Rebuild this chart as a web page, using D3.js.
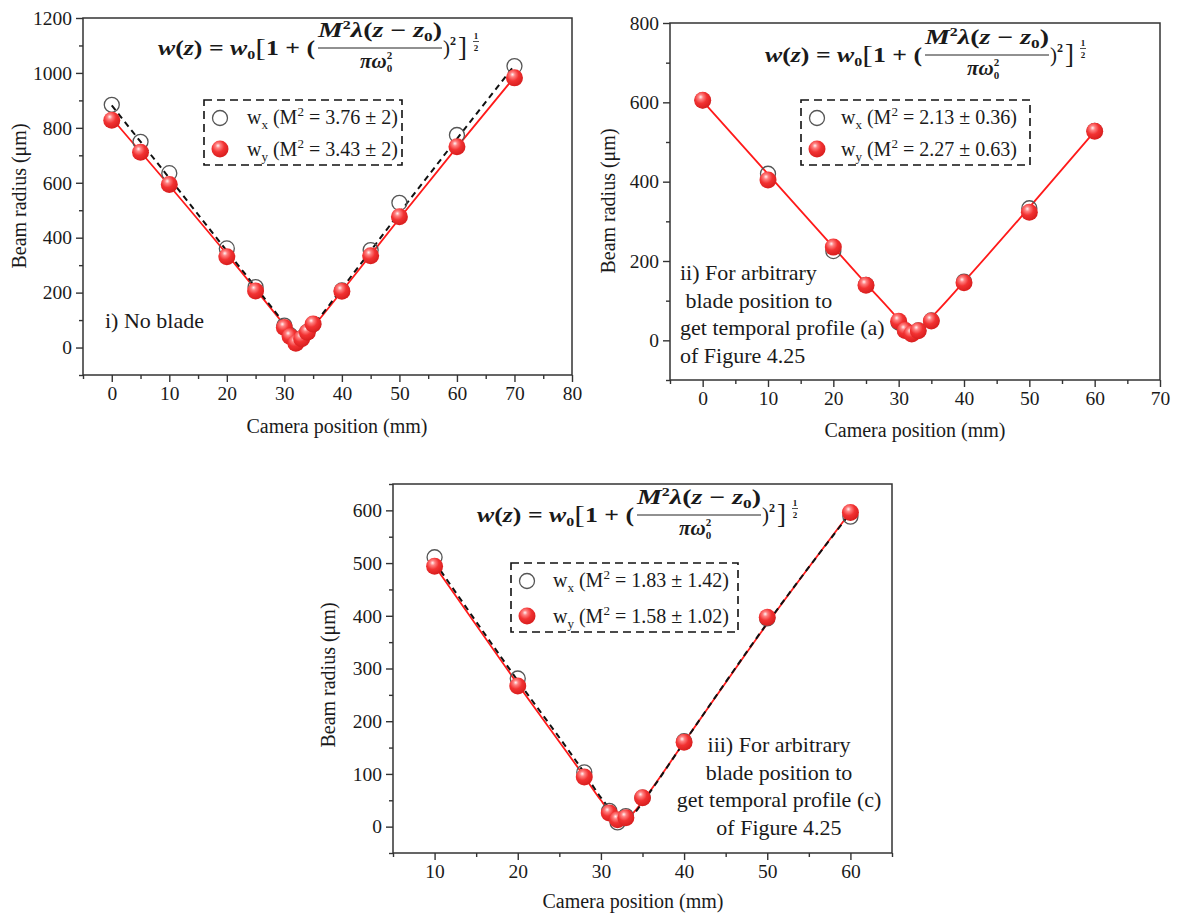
<!DOCTYPE html>
<html><head><meta charset="utf-8">
<script src="https://cdn.jsdelivr.net/npm/d3@7"></script>
<style>
body{margin:0;background:#fff;}
svg text{font-family:"Liberation Serif","Times New Roman",serif;fill:#1a1a1a;}
.math{font-family:"Liberation Serif",serif;font-weight:bold;}
</style></head><body>
<svg id="c" width="1179" height="916"></svg>
<script>
// ---------- DATA ----------
// Panel i) No blade
const p1Pos = [0,5,10,20,25,30,31,32,33,34,35,40,45,50,60,70];
const p1Wx  = [884,749,635,361,220,80,45,20,34,57,85,208,355,527,774,1025];
const p1Wy  = [828,711,594,331,206,73,40,16,32,56,86,205,334,476,731,982];
const p1FitPos = [0,10,20,25,30,31,32,32.5,33,34,35,40,50,60,70];
const p1FitWx  = [882,617,352,220,88,62,38,26,32,55,80,215,490,760,1028];
const p1FitWy  = [835,590,340,212,82,56,32,20,27,50,75,205,470,730,985];
const p1XTicks = [0,10,20,30,40,50,60,70,80];
const p1YTicks = [0,200,400,600,800,1000,1200];
const p1Leg = ["3.76 \u00b1 2","3.43 \u00b1 2"];
const p1Note = ["i) No blade"];

// Panel ii)
const p2Pos = [0,10,20,25,30,31,32,33,35,40,50,60];
const p2Wx  = [605,420,225,140,45,25,18,25,50,148,333,528];
const p2Wy  = [605,404,235,139,48,25,16,24,49,145,323,527];
const p2FitPos = [0,10,20,25,30,31,32,33,34,35,40,50,60];
const p2FitWy  = [603,419,235,143,52,32,17,28,42,58,148,335,527];
const p2XTicks = [0,10,20,30,40,50,60,70];
const p2YTicks = [0,200,400,600,800];
const p2Leg = ["2.13 \u00b1 0.36","2.27 \u00b1 0.63"];
const p2Note = ["ii) For arbitrary"," blade position to","get temporal profile (a)","of Figure 4.25"];

// Panel iii)
const p3Pos = [10,20,28,31,32,33,35,40,50,60];
const p3Wx  = [511,281,103,30,8,20,55,162,395,588];
const p3Wy  = [494,267,94,26,13,17,55,160,397,596];
const p3FitPos = [10,20,28,30,31,32,32.5,33,34,35,40,50,60];
const p3FitWx  = [502,277,102,55,35,20,14,14,25,46,160,386,595];
const p3FitWy  = [495,270,95,50,30,17,13,15,28,48,160,385,597];
const p3XTicks = [10,20,30,40,50,60];
const p3YTicks = [0,100,200,300,400,500,600];
const p3Leg = ["1.83 \u00b1 1.42","1.58 \u00b1 1.02"];
const p3Note = ["iii) For arbitrary","blade position to","get temporal profile (c)","of Figure 4.25"];

// ---------- LAYOUT ----------
const panels = [
 {pos:p1Pos,wx:p1Wx,wy:p1Wy,fitPos:p1FitPos,fitWx:p1FitWx,fitWy:p1FitWy,
  box:{l:83,t:18,r:572,b:375},xd:[-5,80],yd:[-100,1200],xT:p1XTicks,yT:p1YTicks,xMinStep:5,yMinStep:100,
  formula:[158,55],leg:{x:204,y:100,w:198,h:65,sx:16,tx:43},legT:p1Leg,
  note:p1Note,noteX:105,noteY:328,noteAnchor:"start",noteDy:27.5,
  xTitle:[337,433],yTitle:[19,196]},
 {pos:p2Pos,wx:p2Wx,wy:p2Wy,fitPos:p2FitPos,fitWx:null,fitWy:p2FitWy,
  box:{l:670,t:23,r:1160,b:380},xd:[-5,70],yd:[-100,800],xT:p2XTicks,yT:p2YTicks,xMinStep:5,yMinStep:100,
  formula:[765,62],leg:{x:801,y:100,w:229,h:65,sx:16,tx:40},legT:p2Leg,
  note:p2Note,noteX:680,noteY:280,noteAnchor:"start",noteDy:27.7,
  xTitle:[915,437],yTitle:[608,201]},
 {pos:p3Pos,wx:p3Wx,wy:p3Wy,fitPos:p3FitPos,fitWx:p3FitWx,fitWy:p3FitWy,
  box:{l:393,t:484,r:892,b:853},xd:[5,65],yd:[-50,650],xT:p3XTicks,yT:p3YTicks,xMinStep:5,yMinStep:50,
  formula:[477,522],leg:{x:511,y:563,w:227,h:69,sx:16,tx:42},legT:p3Leg,
  note:p3Note,noteX:779,noteY:752,noteAnchor:"middle",noteDy:27.7,
  xTitle:[633,908],yTitle:[328,675]}
];

const svg = d3.select("#c");
const defs = svg.append("defs");
const gr = defs.append("radialGradient").attr("id","sph").attr("cx","40%").attr("cy","35%").attr("r","65%").attr("fx","38%").attr("fy","30%");
gr.append("stop").attr("offset","0%").attr("stop-color","#fff4f4");
gr.append("stop").attr("offset","22%").attr("stop-color","#ff8080");
gr.append("stop").attr("offset","55%").attr("stop-color","#f23232");
gr.append("stop").attr("offset","100%").attr("stop-color","#d81e1e");

const RED = "#ff1a1a";

function formula(g, x0, y0){
  const t = g.append("text").attr("class","math").attr("x",x0).attr("y",y0)
    .attr("font-size",21).attr("textLength",157).attr("lengthAdjust","spacingAndGlyphs");
  t.append("tspan").attr("font-style","italic").text("w");
  t.append("tspan").text("(");
  t.append("tspan").attr("font-style","italic").text("z");
  t.append("tspan").text(") = ");
  t.append("tspan").attr("font-style","italic").text("w");
  t.append("tspan").attr("font-size",13).attr("dy",4).text("0");
  t.append("tspan").attr("font-size",26).attr("font-weight","normal").attr("dy",-3).text("[");
  t.append("tspan").attr("dy",-1).text("1 + (");
  const n = g.append("text").attr("class","math").attr("x",x0+160).attr("y",y0-18)
    .attr("font-size",21).attr("textLength",124).attr("lengthAdjust","spacingAndGlyphs");
  n.append("tspan").attr("font-style","italic").text("M");
  n.append("tspan").attr("font-size",12).attr("dy",-8).text("2");
  n.append("tspan").attr("font-style","italic").attr("dy",8).text("\u03bb");
  n.append("tspan").text("(");
  n.append("tspan").attr("font-style","italic").text("z");
  n.append("tspan").text(" \u2212 ");
  n.append("tspan").attr("font-style","italic").text("z");
  n.append("tspan").attr("font-size",13).attr("dy",4).text("0");
  n.append("tspan").attr("dy",-4).text(")");
  g.append("line").attr("x1",x0+160).attr("x2",x0+284).attr("y1",y0-7).attr("y2",y0-7)
    .attr("stroke","#222").attr("stroke-width",1);
  const d = g.append("text").attr("class","math").attr("x",x0+202).attr("y",y0+13).attr("font-size",21);
  d.append("tspan").attr("font-style","italic").text("\u03c0\u03c9");
  d.append("tspan").attr("font-size",11).attr("dy",-9).text("2");
  d.append("tspan").attr("font-size",11).attr("dx",-5.5).attr("dy",13).text("0");
  const tl = g.append("text").attr("class","math").attr("x",x0+285).attr("y",y0).attr("font-size",21);
  tl.append("tspan").attr("font-weight","normal").text(")");
  tl.append("tspan").attr("font-size",12).attr("dy",-10).text("2");
  tl.append("tspan").attr("font-size",27).attr("font-weight","normal").attr("dx",2).attr("dy",11).text("]");
  // exponent 1/2
  g.append("text").attr("class","math").attr("x",x0+318).attr("y",y0-16).attr("font-size",9)
    .attr("text-anchor","middle").text("1");
  g.append("line").attr("x1",x0+315).attr("x2",x0+321).attr("y1",y0-13.5).attr("y2",y0-13.5)
    .attr("stroke","#222").attr("stroke-width",0.8);
  g.append("text").attr("class","math").attr("x",x0+318).attr("y",y0-4).attr("font-size",9)
    .attr("text-anchor","middle").text("2");
}

function legendText(g, x, y, sub, val){
  const t = g.append("text").attr("x",x).attr("y",y).attr("font-size",20);
  t.append("tspan").text("w");
  t.append("tspan").attr("font-size",13).attr("dy",5).text(sub);
  t.append("tspan").attr("dy",-5).text(" (M");
  t.append("tspan").attr("font-size",13).attr("dy",-8).text("2");
  t.append("tspan").attr("dy",8).text(" = " + val + ")");
}

function sphere(g, cx, cy, r){
  g.append("circle").attr("cx",cx).attr("cy",cy).attr("r",r).attr("fill","url(#sph)");
}
function ring(g, cx, cy, r){
  g.append("circle").attr("cx",cx).attr("cy",cy).attr("r",r).attr("fill","none")
    .attr("stroke","#555").attr("stroke-width",1.3);
}

panels.forEach(p=>{
  const g = svg.append("g");
  const {l,t,r,b} = p.box;
  const x = d3.scaleLinear().domain(p.xd).range([l,r]);
  const y = d3.scaleLinear().domain(p.yd).range([b,t]);

  g.append("rect").attr("x",l).attr("y",t).attr("width",r-l).attr("height",b-t)
    .attr("fill","none").attr("stroke","#333").attr("stroke-width",1.5);

  const xMinor = d3.range(p.xd[0], p.xd[1]+0.001, p.xMinStep).filter(v=>!p.xT.includes(v));
  const yMinor = d3.range(p.yd[0], p.yd[1]+0.001, p.yMinStep).filter(v=>!p.yT.includes(v));

  const styleAxis = s=>{ s.select(".domain").remove();
    s.selectAll(".tick line").attr("stroke","#333").attr("stroke-width",1.4);
    s.selectAll("text").attr("font-size",19.5).attr("fill","#1a1a1a")
      .attr("font-family","Liberation Serif, serif"); };

  g.append("g").attr("transform",`translate(0,${b})`)
    .call(d3.axisBottom(x).tickValues(xMinor).tickSize(4).tickFormat("")).call(styleAxis);
  g.append("g").attr("transform",`translate(0,${b})`)
    .call(d3.axisBottom(x).tickValues(p.xT).tickSize(7).tickPadding(4).tickFormat(d3.format("d"))).call(styleAxis);
  g.append("g").attr("transform",`translate(${l},0)`)
    .call(d3.axisLeft(y).tickValues(yMinor).tickSize(4).tickFormat("")).call(styleAxis);
  g.append("g").attr("transform",`translate(${l},0)`)
    .call(d3.axisLeft(y).tickValues(p.yT).tickSize(7).tickPadding(4).tickFormat(d3.format("d"))).call(styleAxis);

  g.append("text").attr("x",p.xTitle[0]).attr("y",p.xTitle[1]).attr("text-anchor","middle")
    .attr("font-size",20).text("Camera position (mm)");
  g.append("text").attr("transform",`translate(${p.yTitle[0]},${p.yTitle[1]}) rotate(-90)`)
    .attr("text-anchor","middle").attr("dominant-baseline","central")
    .attr("font-size",20).text("Beam radius (\u03bcm)");

  const line = d3.line().x(d=>x(d[0])).y(d=>y(d[1])).curve(d3.curveMonotoneX);
  g.append("path").datum(p.fitPos.map((v,i)=>[v,p.fitWy[i]])).attr("d",line)
    .attr("fill","none").attr("stroke",RED).attr("stroke-width",1.8);
  if(p.fitWx){
    g.append("path").datum(p.fitPos.map((v,i)=>[v,p.fitWx[i]])).attr("d",line)
      .attr("fill","none").attr("stroke","#111").attr("stroke-width",2).attr("stroke-dasharray","6,4.5");
  }

  p.pos.forEach((v,i)=> ring(g, x(v), y(p.wx[i]), 7.5));
  p.pos.forEach((v,i)=> sphere(g, x(v), y(p.wy[i]), 8.5));

  formula(g, p.formula[0], p.formula[1]);

  const L = p.leg;
  g.append("rect").attr("x",L.x).attr("y",L.y).attr("width",L.w).attr("height",L.h)
    .attr("fill","none").attr("stroke","#111").attr("stroke-width",1.6).attr("stroke-dasharray","8,5");
  ring(g, L.x+L.sx, L.y+18, 7.5);
  sphere(g, L.x+L.sx, L.y+L.h-16, 8.5);
  legendText(g, L.x+L.tx, L.y+24, "x", p.legT[0]);
  legendText(g, L.x+L.tx, L.y+L.h-9, "y", p.legT[1]);

  p.note.forEach((s,i)=>{
    g.append("text").attr("x",p.noteX).attr("y",p.noteY+i*p.noteDy).attr("text-anchor",p.noteAnchor)
      .attr("font-size",22).style("white-space","pre").text(s);
  });
});
</script>
</body></html>
